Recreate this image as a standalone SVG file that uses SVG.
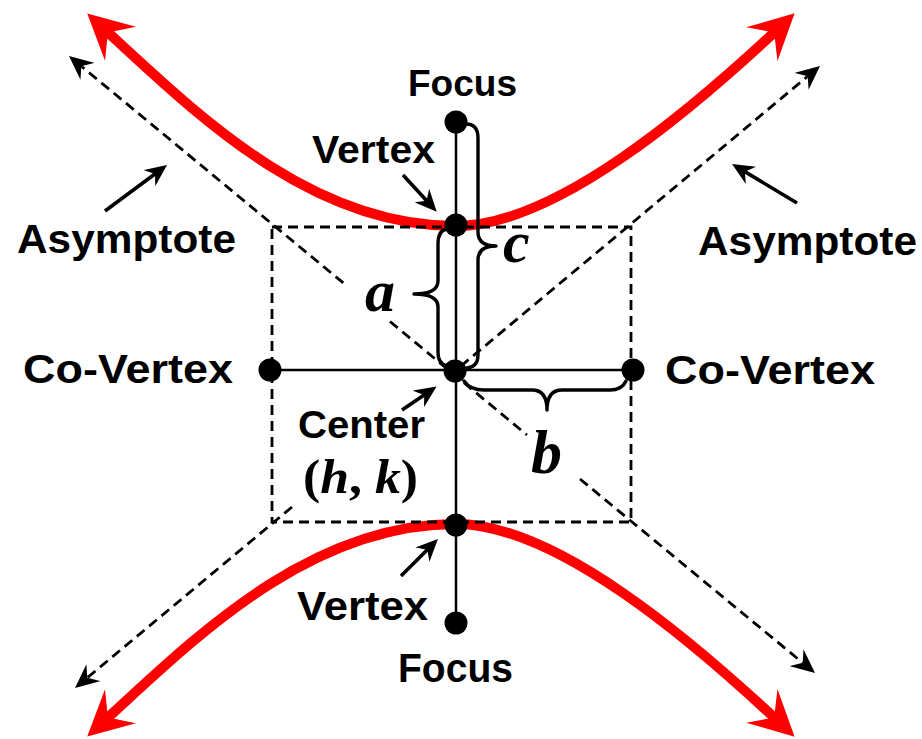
<svg xmlns="http://www.w3.org/2000/svg" width="922" height="739" viewBox="0 0 922 739">
<defs>
<style>
.lbl{font-family:"Liberation Sans",Arial,sans-serif;font-weight:bold;fill:#000}
.var{font-family:"Liberation Serif","Times New Roman",serif;font-weight:bold;font-style:italic;fill:#000}
.paren{font-family:"Liberation Serif","Times New Roman",serif;font-weight:bold;fill:#000}
.hyp{fill:none;stroke:#ff0000;stroke-width:10}
.dash{fill:none;stroke:#000;stroke-width:2.8;stroke-dasharray:10 6}
.axis{stroke:#000;stroke-width:2.5;fill:none}
.brace{fill:none;stroke:#000;stroke-width:3.4;stroke-linejoin:round;stroke-linecap:round}
.ptr{stroke:#000;stroke-width:3.6;fill:none}
.dot{fill:#000}
</style>
<marker id="redHead" markerUnits="userSpaceOnUse" orient="auto-start-reverse" viewBox="0 -24 45 48" markerWidth="45" markerHeight="48" refX="25" refY="0"><polygon points="0,-23 45,0 0,23 17,0" fill="#ff0000"/></marker>
<marker id="dashHead" markerUnits="userSpaceOnUse" orient="auto-start-reverse" viewBox="0 -11 24 22" markerWidth="24" markerHeight="22" refX="14" refY="0"><polygon points="0,-11 24,0 0,11 8,0" fill="#000"/></marker>
<marker id="ptrHead" markerUnits="userSpaceOnUse" orient="auto" viewBox="0 -10 22 20" markerWidth="22" markerHeight="20" refX="14" refY="0"><polygon points="0,-10 22,0 0,10 7,0" fill="#000"/></marker>
</defs>
<rect width="922" height="739" fill="#fff"/>

<g id="connectors">
  <path id="branch-top" class="hyp" d="M102,27 C190.7,107.8 306,226 456,226 C556,226 692.5,109 780,27" marker-start="url(#redHead)" marker-end="url(#redHead)"/>
  <path id="branch-bottom" class="hyp" d="M102,723 C190.7,642.2 306,524 456,524 C556,524 692.5,641 780,723" marker-start="url(#redHead)" marker-end="url(#redHead)"/>
  <rect id="box" class="dash" x="272" y="227" width="359" height="295" stroke-width="3"/>
  <path id="asymptote-1" class="dash" d="M76.7,62.4 L347,286 M390,321.5 L527,435 M580,479 L807.3,666.6" marker-start="url(#dashHead)" marker-end="url(#dashHead)"/>
  <path id="asymptote-2" class="dash" d="M812.3,72.4 L455,371 M292,507 L82.7,681.6" marker-start="url(#dashHead)" marker-end="url(#dashHead)"/>
  <line id="transverse-axis" class="axis" x1="456" y1="122" x2="456" y2="623"/>
  <line id="conjugate-axis" class="axis" x1="270" y1="370" x2="633" y2="370"/>
  <path id="brace-c" class="brace" d="M466,124 Q478,124 478,138 L478,232 Q478,246 496,246 Q478,246 478,260 L478,355 Q478,367 467,368"/>
  <path id="brace-a" class="brace" d="M447,229 Q438,230 438,244 L438,281 Q438,294 414,294 Q438,294 438,307 L438,352 Q438,364 447,366"/>
  <path id="brace-b" class="brace" d="M464,381 Q470,390 484,390 L532,390 Q547,390 547,410 Q547,390 562,390 L610,390 Q622,390 626,381"/>
  <line class="ptr" x1="105" y1="211" x2="160.6" y2="169.8" marker-end="url(#ptrHead)"/>
  <line class="ptr" x1="797" y1="203" x2="738.9" y2="168.1" marker-end="url(#ptrHead)"/>
  <line class="ptr" x1="403" y1="175" x2="431.3" y2="205.8" marker-end="url(#ptrHead)"/>
  <line class="ptr" x1="401" y1="576" x2="432.3" y2="544.7" marker-end="url(#ptrHead)"/>
  <line class="ptr" x1="402" y1="410" x2="430" y2="391" marker-end="url(#ptrHead)"/>
</g>

<g id="focus-top"><circle class="dot" cx="456" cy="122" r="11.5"/><text class="lbl" x="408" y="96" font-size="37" textLength="109" lengthAdjust="spacingAndGlyphs">Focus</text></g>
<g id="vertex-top"><circle class="dot" cx="456" cy="225" r="11.5"/><text class="lbl" x="312" y="163" font-size="39" textLength="123" lengthAdjust="spacingAndGlyphs">Vertex</text></g>
<g id="center"><circle class="dot" cx="455" cy="371" r="11.5"/><text class="lbl" x="298" y="438" font-size="39" textLength="127" lengthAdjust="spacingAndGlyphs">Center</text><text class="paren" x="303" y="493" font-size="48" textLength="115" lengthAdjust="spacingAndGlyphs">(<tspan class="var">h</tspan>, <tspan class="var">k</tspan>)</text></g>
<g id="covertex-left"><circle class="dot" cx="270" cy="370" r="11.5"/><text class="lbl" x="23" y="383" font-size="41" textLength="210" lengthAdjust="spacingAndGlyphs">Co-Vertex</text></g>
<g id="covertex-right"><circle class="dot" cx="633" cy="370" r="11.5"/><text class="lbl" x="665" y="384" font-size="41" textLength="210" lengthAdjust="spacingAndGlyphs">Co-Vertex</text></g>
<g id="vertex-bottom"><circle class="dot" cx="456" cy="525" r="11.5"/><text class="lbl" x="297" y="620" font-size="41" textLength="131" lengthAdjust="spacingAndGlyphs">Vertex</text></g>
<g id="focus-bottom"><circle class="dot" cx="456" cy="623" r="11.5"/><text class="lbl" x="398" y="682" font-size="41" textLength="115" lengthAdjust="spacingAndGlyphs">Focus</text></g>
<g id="asymptote-label-left"><text class="lbl" x="17" y="253" font-size="41" textLength="219" lengthAdjust="spacingAndGlyphs">Asymptote</text></g>
<g id="asymptote-label-right"><text class="lbl" x="698" y="255" font-size="41" textLength="219" lengthAdjust="spacingAndGlyphs">Asymptote</text></g>
<g id="label-a"><text class="var" x="365" y="311" font-size="60">a</text></g>
<g id="label-b"><text class="var" x="531" y="473" font-size="62">b</text></g>
<g id="label-c"><text class="var" x="503" y="262" font-size="60">c</text></g>
</svg>
